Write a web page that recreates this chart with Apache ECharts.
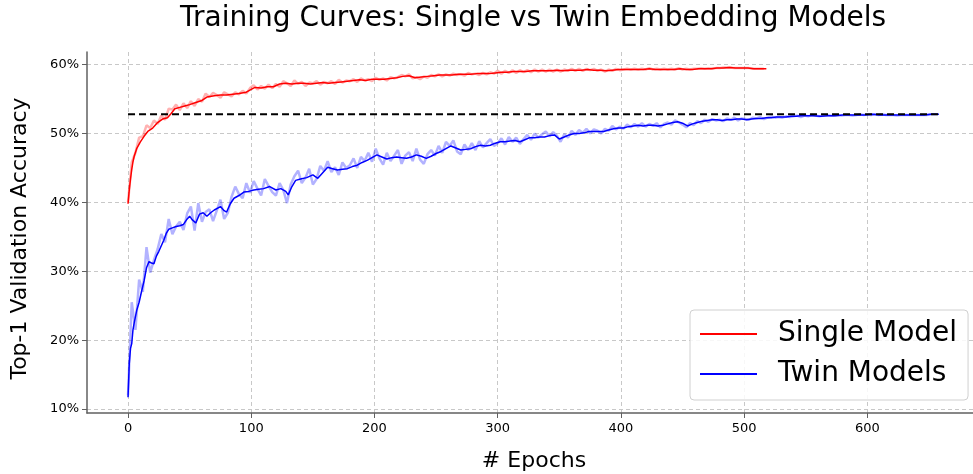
<!DOCTYPE html>
<html>
<head>
<meta charset="utf-8">
<script src="https://cdn.jsdelivr.net/npm/echarts@6/dist/echarts.min.js"></script>
<style>
html,body{margin:0;padding:0;background:#fff;}
#chart{width:973px;height:474px;}
</style>
</head>
<body>
<div id="chart"></div>
<script>
// ---------------- DATA ----------------
const titleText = 'Training Curves: Single vs Twin Embedding Models';
const seriesNames = ['Single Model', 'Twin Models'];
const xTicks = [0, 100, 200, 300, 400, 500, 600];
const yTicks = [10, 20, 30, 40, 50, 60];
const baselineValue = 52.8;
const baselineEpochs = [0, 658];

// raw (noisy) validation accuracy, one value every rawStep epochs
const rawStep = 3;
const singleRaw = [
40.0,45.8,47.2,49.4,49.6,51.2,50.8,51.9,51.4,52.6,52.0,53.6,53.5,54.2,53.4,54.4,53.7,54.7,54.0,55.0,
54.6,55.8,55.3,55.9,55.6,55.2,56.0,55.7,55.4,56.0,55.7,56.2,55.8,56.6,57.0,56.4,56.9,56.5,57.1,56.6,
57.2,56.8,57.6,57.3,56.9,57.7,57.2,57.5,56.9,57.4,57.3,57.6,57.1,57.5,57.3,57.6,57.2,57.8,57.4,57.7,
57.6,57.9,57.5,58.0,57.7,57.9,57.6,58.1,57.8,58.0,57.7,58.2,58.0,58.2,58.5,58.3,58.6,58.0,58.2,57.9,
58.3,58.1,58.5,58.3,58.6,58.3,58.6,58.4,58.7,58.5,58.6,58.4,58.8,58.6,58.7,58.5,58.8,58.6,58.9,58.7,
59.1,58.7,59.1,58.8,59.2,58.8,59.2,58.9,59.2,58.9,59.3,59.0,59.3,59.0,59.3,59.0,59.3,59.0,59.3,59.1,
59.4,59.1,59.4,59.1,59.4,59.2,59.4,59.1,59.3,59.0,59.3,59.1,59.4,59.2,59.3,59.4,59.3,59.4,59.3,59.4,
59.3,59.5,59.3,59.4,59.3,59.4,59.3,59.4,59.3,59.5,59.3,59.4,59.3,59.4,59.4,59.5,59.4,59.5,59.4,59.5,
59.5,59.6,59.6,59.6,59.5,59.5,59.5,59.5,59.5,59.4,59.4,59.4,59.4
];
const twinRaw = [
12.0,25.5,21.5,28.8,27.0,33.5,29.8,31.6,33.2,35.4,34.2,37.6,35.4,36.5,37.2,36.0,38.4,39.4,35.9,39.9,
37.2,38.6,39.0,37.3,38.8,40.4,37.6,38.5,40.8,42.3,41.2,40.6,42.8,41.4,43.1,42.0,41.0,43.4,42.4,41.5,
41.0,42.8,41.8,39.9,42.6,43.8,44.6,42.8,43.6,44.9,42.6,43.4,45.3,44.6,46.0,44.4,45.1,44.0,45.8,45.0,
45.4,46.4,45.0,46.6,46.0,47.2,45.9,47.8,46.4,45.5,47.2,46.0,46.8,47.6,45.6,46.8,47.3,46.0,47.8,46.2,
45.6,47.0,47.6,46.8,48.2,47.2,48.8,48.2,49.0,47.4,47.0,48.4,47.6,48.6,47.6,48.9,48.0,48.6,49.2,48.2,
48.6,49.3,48.4,49.5,48.8,49.4,48.5,49.2,49.8,49.1,50.0,49.4,49.9,50.3,49.6,50.2,49.7,48.8,49.9,49.4,
50.4,49.8,50.5,50.1,50.7,50.0,50.6,50.4,50.0,50.7,50.4,51.1,50.6,51.0,50.7,51.3,50.9,51.4,51.0,51.5,
51.0,51.4,51.1,51.5,50.9,51.4,51.6,51.3,51.9,51.6,51.3,50.9,51.5,51.2,51.8,51.5,52.0,51.7,52.1,51.9,
52.0,51.8,52.2,52.0,52.3,51.9,52.2,52.1,52.0,52.3,52.2,52.4,52.1,52.3,52.5,52.3,52.4,52.3,52.5,52.4,
52.5,52.6,52.4,52.6,52.5,52.7,52.6,52.5,52.6,52.7,52.6,52.6,52.7,52.6,52.7,52.7,52.6,52.7,52.8,52.7,
52.8,52.7,52.8,52.7,52.8,52.7,52.7,52.7,52.6,52.7,52.7,52.7,52.7,52.7,52.7,52.7,52.7,52.8,52.8,52.8
];

// smoothed curves: [epoch, accuracy %]
const singleSmooth = [
[0,39.8],[1,41.8],[2,43.4],[3,44.8],[4,45.9],[5,46.7],[7,47.8],[10,48.8],[13,49.6],[16,50.3],[20,50.8],[24,51.6],[28,52.1],[32,52.3],[35,52.9],[38,53.6],[42,53.8],[46,54.0],[50,54.2],[55,54.5],
[60,54.8],[64,55.3],[70,55.5],[75,55.6],[80,55.6],[85,55.7],[90,55.8],[96,56.0],[100,56.4],[103,56.7],[108,56.6],[113,56.8],[118,56.8],[123,57.2],[128,57.3],[133,57.2],[138,57.3],[143,57.3],[148,57.2],[153,57.3],
[158,57.4],[163,57.3],[168,57.4],[173,57.5],[178,57.6],[183,57.7],[188,57.8],[193,57.7],[198,57.9],[203,57.9],[208,57.9],[213,58.0],[218,58.1],[223,58.3],[228,58.4],[233,58.1],[238,58.2],[243,58.3],[248,58.4],[253,58.5],
[258,58.5],[263,58.5],[268,58.6],[273,58.6],[278,58.6],[283,58.7],[288,58.7],[293,58.7],[298,58.8],[303,58.9],[308,58.9],[313,59.0],[318,59.0],[323,59.0],[328,59.1],[333,59.1],[338,59.1],[343,59.1],[348,59.2],[353,59.1],
[358,59.2],[363,59.2],[368,59.2],[373,59.3],[378,59.2],[383,59.2],[388,59.1],[393,59.2],[398,59.3],[403,59.3],[408,59.3],[413,59.3],[418,59.3],[423,59.4],[428,59.3],[433,59.3],[438,59.3],[443,59.3],[448,59.4],[453,59.3],
[458,59.3],[463,59.4],[468,59.4],[473,59.4],[478,59.5],[483,59.5],[488,59.6],[493,59.5],[498,59.5],[503,59.5],[508,59.4],[513,59.4],[518,59.4]
];
const twinSmooth = [
[0,11.7],[1,16.6],[2,18.8],[3,19.5],[4,21.5],[5,22.5],[7,24.3],[9,25.5],[11,27.1],[13,28.6],[15,30.5],[17,31.4],[19,31.2],[21,31.1],[23,32.2],[25,32.9],[27,33.7],[29,34.5],[31,35.5],[33,36.1],
[36,36.3],[39,36.5],[42,36.6],[45,36.8],[48,37.6],[50,38.0],[52,37.5],[55,37.0],[58,38.3],[61,38.5],[64,38.0],[67,38.5],[70,38.9],[75,39.4],[78,38.8],[80,38.6],[83,39.8],[86,40.6],[90,41.0],[94,41.5],
[98,41.6],[102,41.8],[106,41.9],[110,42.0],[115,42.3],[120,41.8],[124,42.0],[128,41.6],[130,41.1],[133,42.3],[136,43.2],[140,43.4],[145,43.6],[150,44.0],[154,43.5],[158,44.3],[162,45.1],[166,44.9],[170,44.7],[174,44.8],
[178,44.9],[182,45.2],[186,45.4],[190,45.8],[194,46.1],[198,46.5],[202,46.9],[206,46.6],[210,46.3],[214,46.5],[218,46.6],[222,46.5],[226,46.4],[230,46.6],[234,46.9],[238,46.7],[242,46.4],[246,46.7],[250,47.1],[254,47.4],
[258,47.8],[262,48.2],[266,47.9],[270,47.6],[274,47.7],[278,47.8],[282,48.1],[286,48.3],[290,48.2],[294,48.3],[298,48.6],[302,48.8],[306,48.8],[310,48.9],[314,49.0],[318,48.8],[322,49.1],[326,49.4],[330,49.4],[334,49.5],
[338,49.5],[342,49.7],[346,49.8],[350,49.2],[354,49.5],[358,49.8],[362,50.0],[366,50.0],[370,50.1],[374,50.3],[378,50.3],[382,50.3],[386,50.3],[390,50.5],[394,50.7],[398,50.8],[402,50.8],[406,51.0],[410,51.1],[414,51.2],
[418,51.1],[422,51.2],[426,51.2],[430,51.1],[434,51.2],[438,51.4],[442,51.6],[446,51.7],[450,51.5],[454,51.1],[458,51.4],[462,51.6],[466,51.8],[470,51.9],[474,52.0],[478,52.0],[482,51.9],[486,52.0],[490,52.0],[494,52.1],
[498,52.1],[502,52.0],[506,52.1],[510,52.2],[514,52.2],[518,52.3],[522,52.3],[526,52.4],[530,52.4],[534,52.4],[538,52.5],[542,52.5],[546,52.6],[550,52.6],[556,52.6],[562,52.5],[568,52.6],[574,52.6],[580,52.7],[586,52.7],
[592,52.7],[598,52.7],[604,52.8],[610,52.7],[616,52.7],[622,52.7],[628,52.7],[634,52.7],[640,52.7],[646,52.7],[652,52.8],[658,52.8]
];

// ---------------- CHART ----------------
const FONT = 'DejaVu Sans';
const toPairs = arr => arr.map((v, i) => [i * rawStep, v]);
const chart = echarts.init(document.getElementById('chart'), null, {renderer: 'canvas'});

const axisGray = '#606060';
const gridGray = '#c8c8c8';

chart.setOption({
  animation: false,
  backgroundColor: '#fff',
  textStyle: {fontFamily: FONT},
  title: {
    text: titleText,
    left: 180, top: 5, padding: 0,
    textStyle: {fontFamily: FONT, fontSize: 28, fontWeight: 'normal', color: '#000'}
  },
  grid: {left: 87, top: 52, right: 0, bottom: 61, containLabel: false, outerBoundsMode: 'none'},
  legend: {
    data: seriesNames,
    left: 690, top: 310,
    orient: 'vertical',
    icon: 'rect',
    itemWidth: 57, itemHeight: 2,
    itemGap: 8,
    padding: [8, 11, 10, 10],
    backgroundColor: 'rgba(255,255,255,0.85)',
    borderColor: '#d0d0d0', borderWidth: 1, borderRadius: 4,
    textStyle: {fontFamily: FONT, fontSize: 28, color: '#000', lineHeight: 32, padding: [0, 0, 0, 16]}
  },
  xAxis: {
    type: 'value', min: -33.3, max: 685.7,
    name: '# Epochs', nameLocation: 'middle', nameGap: 37,
    nameTextStyle: {fontFamily: FONT, fontSize: 22, color: '#000', padding: [0, 0, 0, 8]},
    axisLine: {show: true, onZero: false, lineStyle: {color: axisGray, width: 1.5}},
    axisTick: {show: true, length: 5, lineStyle: {color: axisGray, width: 1}, customValues: xTicks},
    axisLabel: {customValues: xTicks, fontSize: 13, color: '#000', margin: 9, fontFamily: FONT},
    splitLine: {show: true, lineStyle: {color: gridGray, type: [4, 3], width: 1}}
  },
  yAxis: {
    type: 'value', min: 9.42, max: 61.84,
    name: 'Top-1 Validation Accuracy', nameLocation: 'middle', nameGap: 56,
    nameTextStyle: {fontFamily: FONT, fontSize: 22, color: '#000', padding: [0, 12, 0, 0]},
    axisLine: {show: true, onZero: false, lineStyle: {color: axisGray, width: 1.5}},
    axisTick: {show: true, length: 5, lineStyle: {color: axisGray, width: 1}, customValues: yTicks},
    axisLabel: {customValues: yTicks, fontSize: 13, color: '#000', margin: 8, fontFamily: FONT, formatter: v => v + '%'},
    splitLine: {show: true, lineStyle: {color: gridGray, type: [4, 3], width: 1}}
  },
  series: [
    {name: 'single-raw', type: 'line', data: toPairs(singleRaw), showSymbol: false, symbol: 'none',
     lineStyle: {color: '#ff0000', width: 2.5, opacity: 0.3}, itemStyle: {color: '#ff0000'}, z: 1, silent: true},
    {name: 'twin-raw', type: 'line', data: toPairs(twinRaw), showSymbol: false, symbol: 'none',
     lineStyle: {color: '#0000ff', width: 2.5, opacity: 0.3}, itemStyle: {color: '#0000ff'}, z: 1, silent: true},
    {name: seriesNames[0], type: 'line', data: singleSmooth, showSymbol: false, symbol: 'none',
     color: '#ff0000', lineStyle: {color: '#ff0000', width: 1.5}, itemStyle: {color: '#ff0000'}, z: 2},
    {name: seriesNames[1], type: 'line', data: twinSmooth, showSymbol: false, symbol: 'none',
     color: '#0000ff', lineStyle: {color: '#0000ff', width: 1.5}, itemStyle: {color: '#0000ff'}, z: 2},
    {name: 'baseline', type: 'line', data: baselineEpochs.map(e => [e, baselineValue]), showSymbol: false, symbol: 'none',
     lineStyle: {color: '#000', width: 2, type: [7, 4]}, z: 3, silent: true}
  ]
});
</script>
</body>
</html>
